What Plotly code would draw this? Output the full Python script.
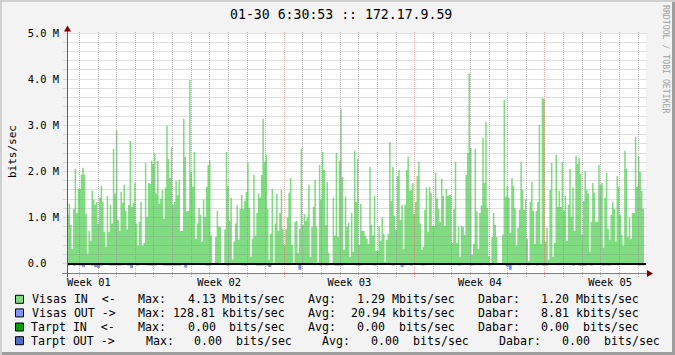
import math
import plotly.graph_objects as go

# ---------------- data (Mbit/s, 2-hour samples, left to right) ----------------
visas_in_w1 = [1.06,1.30,0.84,0.32,1.19,2.06,1.10,1.62,1.62,1.93, 2.08,1.93,1.08,0.22,0.71,0.50,1.58,1.39,1.28,1.34,
               0.87,1.43,1.69,1.34,0.69,0.37,1.47,0.69,1.28,0.87, 2.49,1.52,2.90,0.95,0.71,1.56,1.32,1.71,1.15,0.74,
               1.28,2.66,1.23,1.32,1.75,0.87,0.39,0.91,1.34,0.39, 0.45,2.19,1.02,1.75,1.73,2.23,2.16,2.40,1.52,2.23,
               1.30,1.41,1.60]
visas_in_w2 = [0.97,1.65,2.99,2.27,1.86,2.53,1.28,1.34,1.80,1.49, 1.82,0.71,0.71,3.14,2.32,1.13,1.15,3.98,1.99,1.67,
               2.42,0.54,0.87,1.21,1.06,0.48,1.39,1.02,1.67,2.14, 2.25,0.61,0,0,0.58,1.15,0.80,0.80,0,0,
               0.74,2.42,1.69,0.93,1.43,0.09,0.48,0.87,1.26,0.52, 1.19,1.49,1.19,1.36,1.56,2.19,1.21,0.15,0.54,1.93,
               0.61,1.10,1.52]
visas_in_w3 = [1.43,1.93,3.14,2.21,2.36,1.19,0.09,0.65,1.62,0.02, 0.87,1.52,0.71,1.10,1.60,0.76,0.41,0.76,1.00,1.54,
               1.86,0.41,0,0.91,0.93,0.24,0.76,2.49,0.84,1.08, 0.93,1.00,1.71,0.15,0.80,1.23,1.82,0.80,0.02,2.14,
               1.39,2.42,2.03,0.84,1.77,0.24,0,0,1.43,0.61, 2.40,0.58,2.23,3.35,1.88,0.30,1.45,0.80,0.89,0.15,
               1.10,0.26,2.45,1.34]
visas_in_w4 = [2.27,0.41,1.30,0.71,0.71,0.61,0.54,0.43,2.10,0.84, 0.61,1.47,0.28,0.28,0.82,0.50,1.00,0.65,0.04,0.52,
               0.65,2.64,1.36,2.10,1.04,0.74,1.90,2.03,0.95,1.28, 0.32,1.28,2.03,2.32,1.58,1.60,1.75,1.08,1.34,1.90,
               2.21,0.87,0.30,0.37,1.17,1.65,0.69,1.67,1.54,0.82, 0.82,1.97,1.41,1.19,0.91,1.84,1.47,0.82,1.62,1.47,
               1.49]
visas_in_w5 = [1.49,0.45,1.19,2.21,0.45,0.80,0.15,0.82,0.80,0.63, 1.93,2.40,4.13,2.51,0.19,0.43,2.49,1.13,0.32,1.10,
               1.26,2.73,1.75,3.07,1.21,0.17,0,0.58,1.10,0.84, 0.58,0,0,0,0.63,3.55,1.45,1.69,1.43,0.67,
               1.86,1.69,1.21,0.39,0.78,1.17,2.21,1.60,1.17,1.39, 0.54,0.06,1.34,1.77,1.15,0.43,1.15,1.34,3.01,0.43,
               3.59,3.57,0.48]
visas_in_w6 = [0.78,0.09,1.60,2.19,0.15,0.45,2.36,1.23,1.58,1.23, 2.21,1.15,1.47,0.50,1.28,2.06,1.02,1.65,0.71,2.34,
               2.16,2.29,1.95,0.63,1.36,2.01,1.60,1.52,0.26,0.91, 1.75,1.54,0.91,0.91,2.14,1.71,1.75,0.35,1.43,1.97,
               0.76,0.52,1.06,1.34,1.19,0.48,1.90,1.67,1.06,0.63, 0.39,2.45,2.06,0.58,1.00,0.54,1.10,1.10,2.75,1.67,
               2.32,1.99,1.58,1.19]
visas_in = visas_in_w1 + visas_in_w2 + visas_in_w3 + visas_in_w4 + visas_in_w5 + visas_in_w6

# outbound (Mbit/s, 4-hour samples), drawn below zero
visas_out_w1 = [0.04,0,0.04,0.03,0.04,0.07,0,0,0.04,0.07,0.09,0.04,0,0.02,0.04,0.04,
                0.04,0.04,0.03,0,0.04,0.09,0,0.04,0.02,0,0.03,0.04,0.04,0.04,0.02,0]
visas_out_w2 = [0.04,0.04,0.04,0.04,0.04,0.04,0.02,0.08,0,0.03,0,0.02,0,0.02,0.04,0.04,
                0.02,0,0,0,0,0.04,0.01,0,0,0,0.03,0.04,0,0,0.02,0.04]
visas_out_w3 = [0.04,0.03,0.04,0.07,0,0,0,0,0,0.03,0,0,0,0.13,0,0,
                0,0,0.03,0,0.04,0.01,0.04,0.02,0,0.04,0.04,0.04,0,0,0,0.02]
visas_out_w4 = [0.04,0.04,0,0,0.02,0,0.04,0,0,0,0,0,0.04,0.02,0,0.07,
                0.03,0.02,0.04,0,0,0,0.04,0,0.02,0.02,0.03,0.02,0.02,0.02,0,0.02]
visas_out_w5 = [0.03,0,0.04,0,0,0.02,0.04,0.03,0,0.03,0,0.02,0.04,0,0,0,
                0,0,0.06,0.13,0.03,0.02,0.03,0.01,0.02,0.04,0.01,0,0.04,0,0.04,0.04]
visas_out_w6 = [0,0.02,0,0.03,0.02,0.02,0.02,0,0.04,0,0.04,0.04,0.04,0.02,0.04,0,
                0,0.02,0.04,0.03,0.04,0,0,0.03,0,0,0,0,0,0.02,0.04,0.03]
visas_out = visas_out_w1 + visas_out_w2 + visas_out_w3 + visas_out_w4 + visas_out_w5 + visas_out_w6

y_tick_values = [0, 1, 2, 3, 4, 5]
y_tick_labels = ["0.0\u00a0\u00a0", "1.0 M", "2.0 M", "3.0 M", "4.0 M", "5.0 M"]
week_labels = ["Week 01", "Week 02", "Week 03", "Week 04", "Week 05"]

title_text = "01-30 6:30:53 :: 172.17.9.59"
legend_rows = [
    ("#80DC80", [("Visas IN  <-", 31), ("Max:", 137.7), ("4.13", 187.7), ("Mbits/sec", 221),
                 ("Avg:", 307.7), ("1.29", 356), ("Mbits/sec", 391.7), ("Dabar:", 477.7), ("1.20", 540), ("Mbits/sec", 575.7)]),
    ("#8096FF", [("Visas OUT ->", 31), ("Max:", 137.7), ("128.81", 172.7), ("kbits/sec", 221),
                 ("Avg:", 307.7), ("20.94", 350), ("kbits/sec", 391.7), ("Dabar:", 477.7), ("8.81", 540), ("kbits/sec", 575.7)]),
    ("#00A000", [("Tarpt IN  <-", 30.5), ("Max:", 137.7), ("0.00", 187.7), ("bits/sec", 228.7),
                 ("Avg:", 307.7), ("0.00", 356), ("bits/sec", 398.3), ("Dabar:", 477.7), ("0.00", 540), ("bits/sec", 582.3)]),
    ("#4C6CC8", [("Tarpt OUT ->", 30.5), ("Max:", 145), ("0.00", 193.3), ("bits/sec", 235.3),
                 ("Avg:", 321.7), ("0.00", 370.7), ("bits/sec", 412.7), ("Dabar:", 498.7), ("0.00", 561.3), ("bits/sec", 603.3)]),
]
legend_row_y = [299.3, 312.9, 327.0, 340.7]

# ---------------- geometry ----------------
W, H = 675, 355
PL, PR, PT, PB = 67, 646, 33, 273
DAY_PX = 18.62
SPAN_DAYS = (PR - PL) / DAY_PX
FIRST_MONDAY = 4.67
DATA_DAYS = (644 - PL) / DAY_PX
Y_MIN, Y_MAX = -0.2, 5.0

def px(x):
    return (x - PL) / (PR - PL)

def py(y):
    return (PB - y) / (PB - PT)

def val_to_pix_y(v):
    return PT + (Y_MAX - v) / (Y_MAX - Y_MIN) * (PB - PT)

def day_to_pix_x(d):
    return PL + d * DAY_PX

FONT = "DejaVu Sans Mono"
GREEN = "#80DC80"
BLUE = "#7F8CFF"

fig = go.Figure()

n = len(visas_in)
step = DATA_DAYS / n
x_in = [i * step for i in range(n + 1)]
y_in = [v * 1e6 for v in visas_in] + [visas_in[-1] * 1e6]
fig.add_trace(go.Scatter(x=x_in, y=y_in, mode="lines", line=dict(width=0, shape="hv", color=GREEN),
                         fill="tozeroy", fillcolor=GREEN, hoverinfo="skip", showlegend=False))

m = len(visas_out)
step_o = DATA_DAYS / m
x_out = [i * step_o for i in range(m + 1)]
y_out = [-v * 1e6 for v in visas_out] + [-visas_out[-1] * 1e6]
fig.add_trace(go.Scatter(x=x_out, y=y_out, mode="lines", line=dict(width=0, shape="hv", color=BLUE),
                         fill="tozeroy", fillcolor=BLUE, hoverinfo="skip", showlegend=False))

shapes = []
GRID = "rgba(128,128,128,0.5)"
MGRID = "rgba(224,80,80,0.45)"
DOTS = "1px,1px"
# horizontal grid (snapped to pixel centres)
k = 1
while True:
    v = round(Y_MIN + 0.2 * k, 4)
    if v > Y_MAX + 1e-9:
        break
    major = abs(v - round(v)) < 1e-6
    yp = math.floor(val_to_pix_y(v)) + 0.5
    shapes.append(dict(type="line", xref="paper", yref="paper", x0=px(63.5), x1=px(647.5), y0=py(yp), y1=py(yp),
                       line=dict(color=MGRID if major else GRID, width=1, dash=DOTS), layer="above"))
    k += 1
# vertical grid (daily, weekly major)
d = FIRST_MONDAY - 7
while d < SPAN_DAYS:
    if d > 0:
        major = abs(((d - FIRST_MONDAY) / 7) - round((d - FIRST_MONDAY) / 7)) < 1e-6
        xp = math.floor(day_to_pix_x(d)) + 0.5
        shapes.append(dict(type="line", xref="paper", yref="paper", x0=px(xp), x1=px(xp), y0=py(277), y1=py(31),
                           line=dict(color=MGRID if major else GRID, width=1, dash=DOTS), layer="above"))
    d += 1
# zero rule
y0p = round(val_to_pix_y(0))
shapes.append(dict(type="line", xref="paper", yref="paper", x0=px(PL), x1=px(PR), y0=py(y0p), y1=py(y0p),
                   line=dict(color="black", width=2), layer="above"))
# axes
shapes.append(dict(type="line", xref="paper", yref="paper", x0=px(62), x1=px(647), y0=py(273.5), y1=py(273.5),
                   line=dict(color="#808080", width=1), layer="above"))
shapes.append(dict(type="line", xref="paper", yref="paper", x0=px(67.5), x1=px(67.5), y0=py(277), y1=py(29),
                   line=dict(color="#606060", width=1), layer="above"))
# arrows
shapes.append(dict(type="path", xref="paper", yref="paper",
                   path=f"M {px(64)},{py(31.5)} L {px(71)},{py(31.5)} L {px(67.5)},{py(25.5)} Z",
                   fillcolor="#800000", line=dict(width=0), layer="above"))
shapes.append(dict(type="path", xref="paper", yref="paper",
                   path=f"M {px(647)},{py(270)} L {px(647)},{py(277)} L {px(653)},{py(273.5)} Z",
                   fillcolor="#800000", line=dict(width=0), layer="above"))
# frame shading
shapes.append(dict(type="rect", xref="paper", yref="paper", x0=px(0), x1=px(675), y0=py(0), y1=py(2),
                   fillcolor="#CFCFCF", line=dict(width=0)))
shapes.append(dict(type="rect", xref="paper", yref="paper", x0=px(0), x1=px(2), y0=py(0), y1=py(355),
                   fillcolor="#CFCFCF", line=dict(width=0)))
shapes.append(dict(type="rect", xref="paper", yref="paper", x0=px(2), x1=px(675), y0=py(352), y1=py(355),
                   fillcolor="#9E9E9E", line=dict(width=0)))
shapes.append(dict(type="rect", xref="paper", yref="paper", x0=px(672), x1=px(675), y0=py(2), y1=py(355),
                   fillcolor="#9E9E9E", line=dict(width=0)))

annotations = []
# legend
for (color, tokens), ry in zip(legend_rows, legend_row_y):
    shapes.append(dict(type="rect", xref="paper", yref="paper", x0=px(15.5), x1=px(23.5),
                       y0=py(ry - 4), y1=py(ry + 4), fillcolor=color, line=dict(color="black", width=1)))
    for txt, xs in tokens:
        annotations.append(dict(text=txt.replace(" ", "\u00a0"), xref="paper", yref="paper", x=px(xs - 0.5), y=py(ry),
                                xanchor="left", yanchor="middle", showarrow=False, borderpad=0,
                                font=dict(family=FONT, size=11.6, color="black")))
# title
annotations.append(dict(text=title_text.replace(" ", "\u00a0"), xref="paper", yref="paper", x=px(340.5), y=py(14),
                        xanchor="center", yanchor="middle", showarrow=False, borderpad=0,
                        font=dict(family=FONT, size=13.2, color="black")))
# y title
annotations.append(dict(text="bits/sec", xref="paper", yref="paper", x=px(12), y=py(152), textangle=-90,
                        xanchor="center", yanchor="middle", showarrow=False, borderpad=0,
                        font=dict(family=FONT, size=11, color="black")))
# watermark
annotations.append(dict(text="RRDTOOL / TOBI OETIKER".replace(" ", "\u00a0"), xref="paper", yref="paper",
                        x=px(666), y=py(59), textangle=90, xanchor="center", yanchor="middle",
                        showarrow=False, borderpad=0, font=dict(family=FONT, size=8.2, color="#A0A0A0")))

week_mid = [FIRST_MONDAY - 3.5 + 7 * i for i in range(len(week_labels))]

fig.update_layout(
    width=W, height=H, autosize=False,
    margin=dict(l=PL, r=W - PR, t=PT, b=H - PB, pad=0),
    paper_bgcolor="#F3F3F3", plot_bgcolor="#FFFFFF",
    showlegend=False,
    xaxis=dict(range=[0, SPAN_DAYS], tickvals=week_mid, ticktext=week_labels, showgrid=False, zeroline=False,
               showline=False, ticks="", ticklen=0, ticklabelstandoff=2,
               tickfont=dict(family=FONT, size=10.4, color="black"), fixedrange=True),
    yaxis=dict(range=[Y_MIN * 1e6, Y_MAX * 1e6], tickvals=[v * 1e6 for v in y_tick_values], ticktext=y_tick_labels,
               showgrid=False, zeroline=False, showline=False, ticks="", ticklen=0, ticklabelstandoff=7,
               tickfont=dict(family=FONT, size=10.4, color="black"), fixedrange=True),
    shapes=shapes, annotations=annotations,
)

fig.write_html("out.html", config={"displayModeBar": False})
